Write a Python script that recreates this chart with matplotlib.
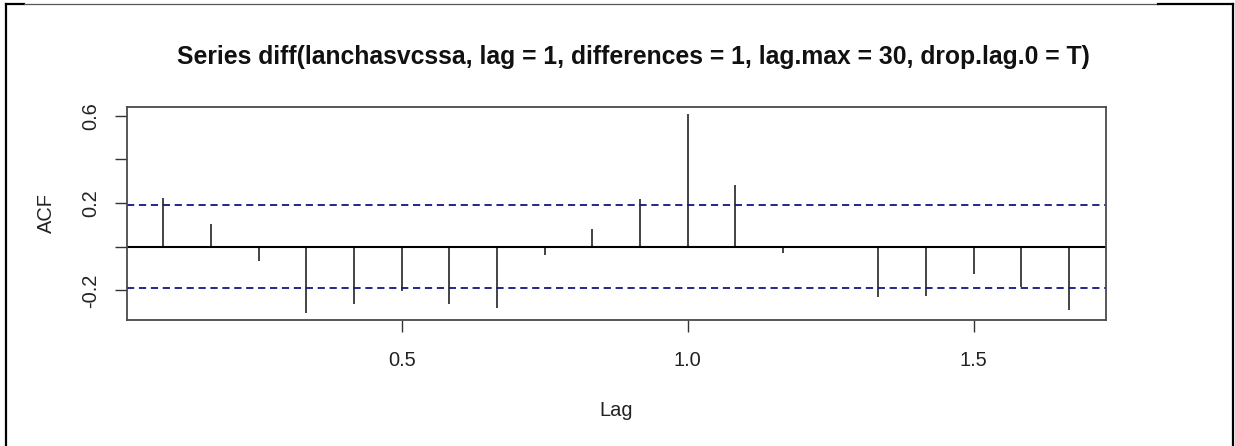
import numpy as np
import matplotlib.pyplot as plt
from matplotlib.lines import Line2D

# ACF of the differenced series, monthly lags 1..20 (frequency 12)
lag_months = [1, 2, 3, 4, 5, 6, 7, 8, 9, 10, 11, 12, 13, 14, 15, 16, 17, 18, 19, 20]
acf_vals = [0.223, 0.104, -0.065, -0.304, -0.262, -0.203, -0.262, -0.281, -0.040, 0.079,
            0.218, 0.607, 0.282, -0.029, 0.003, -0.232, -0.226, -0.124, -0.185, -0.291]
conf_lim = 0.191
x_ticks = [0.5, 1.0, 1.5]
y_ticks = [-0.2, 0.0, 0.2, 0.4, 0.6]
y_ticklabels = ['-0.2', '', '0.2', '', '0.6']

lags = np.array(lag_months) / 12.0

plt.rcParams['font.family'] = ['Liberation Sans', 'DejaVu Sans']

fig = plt.figure(figsize=(12.35, 4.46), dpi=100)
ax = fig.add_axes([0.1026, 0.2825, 0.7929, 0.4783])

ax.vlines(lags, 0, acf_vals, color='#111111', lw=1.1)
ax.axhline(0, color='black', lw=1.5)
for c in (conf_lim, -conf_lim):
    ax.axhline(c, color='#15157f', lw=1.3, linestyle=(0, (4.0, 2.6)))

ax.set_xlim(0.0192, 1.731)
ax.set_ylim(-0.336, 0.642)

ax.set_xticks(x_ticks)
ax.set_xticklabels([f'{t:.1f}' for t in x_ticks])
ax.set_yticks(y_ticks)
ax.set_yticklabels(y_ticklabels, rotation=90, va='center', ha='center')

ax.tick_params(axis='both', direction='out', length=8.5, width=1.0, color='#333333',
               labelsize=14.4, labelcolor='#222222')
ax.tick_params(axis='x', pad=14)
ax.tick_params(axis='y', pad=17.5)

for sp in ax.spines.values():
    sp.set_color('#4a4a4a')
    sp.set_linewidth(1.3)

ax.set_xlabel('Lag', fontsize=14.4, color='#222222', va='baseline')
ax.xaxis.set_label_coords(0.5, -0.450)
ax.set_ylabel('ACF', fontsize=14.4, color='#222222', va='center', ha='center')
ax.yaxis.set_label_coords(-0.0818, 0.5)

fig.text(633 / 1235, 0.856,
         'Series diff(lanchasvcssa, lag = 1, differences = 1, lag.max = 30, drop.lag.0 = T)',
         ha='center', va='baseline', fontsize=17.8, fontweight='bold', color='#111111')

# frame around the picture
W, H = 1235.0, 446.0
fig.add_artist(Line2D([6 / W, 6 / W], [0, 1 - 4 / H], color='black', lw=1.6,
                      transform=fig.transFigure))
fig.add_artist(Line2D([1233 / W, 1233 / W], [0, 1 - 4 / H], color='black', lw=1.6,
                      transform=fig.transFigure))
fig.add_artist(Line2D([6 / W, 24 / W], [1 - 3.5 / H, 1 - 3.5 / H], color='black', lw=1.6,
                      transform=fig.transFigure))
fig.add_artist(Line2D([24 / W, 1158 / W], [1 - 3.5 / H, 1 - 3.5 / H], color='#555555', lw=0.9,
                      transform=fig.transFigure))
fig.add_artist(Line2D([1158 / W, 1233 / W], [1 - 3.5 / H, 1 - 3.5 / H], color='black', lw=1.6,
                      transform=fig.transFigure))

fig.savefig('out.png', dpi=100)
